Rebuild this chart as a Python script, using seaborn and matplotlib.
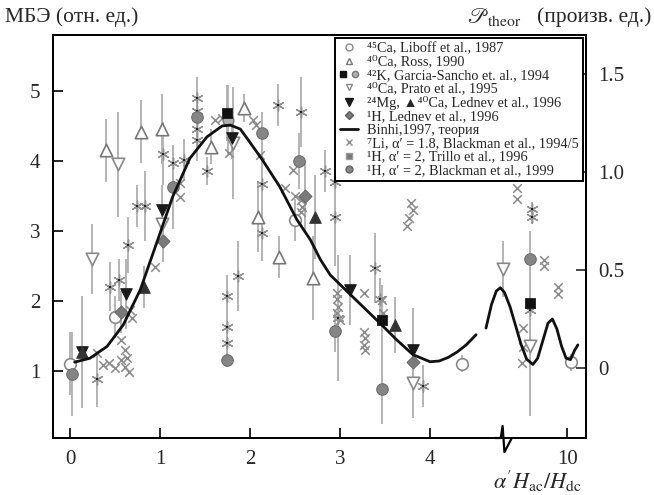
import numpy as np
import matplotlib
matplotlib.use("Agg")
import matplotlib.pyplot as plt
import seaborn as sns
from matplotlib.lines import Line2D
from matplotlib.legend_handler import HandlerTuple

# -----------------------------
# DATA (left axis units)
# -----------------------------
liboff_x = [0.0, 0.5, 2.5, 4.35, 10.1]
liboff_y = [1.1, 1.77, 3.15, 1.1, 1.12]
liboff_err = [0.45, 0.3, 0.3, 0.12, 0.12]

ross_x = [0.4, 0.79, 1.02, 1.56, 1.93, 2.09, 2.32, 2.7]
ross_y = [4.15, 4.42, 4.45, 4.2, 4.75, 3.2, 2.63, 2.33]
ross_err = [0.45, 0.45, 0.5, 0.25, 0.2, 0.5, 0.3, 0.6]

sancho_x = [1.74, 3.46, 9.0]
sancho_y = [4.68, 1.72, 1.97]
sancho_err = [0.4, 0.5, 0.3]
k42_x = [1.75]
k42_y = [4.58]
k42_err = [0.5]

prato_x = [0.24, 0.53, 1.02, 1.81, 3.81, 8.25, 9.0]
prato_y = [2.6, 3.95, 3.1, 4.25, 0.82, 2.45, 1.35]
prato_err = [0.5, 0.75, 0.3, 0.8, 0.5, 0.4, 1.0]

mg_x = [0.13, 0.62, 1.02, 1.8, 3.11, 3.81]
mg_y = [1.27, 2.1, 3.3, 4.33, 2.15, 1.3]
mg_err = [0.8, 0.5, 0.35, 0.3, 0.5, 0.6]
ca_x = [0.13, 0.82, 2.72, 3.61]
ca_y = [1.27, 2.2, 3.2, 1.65]
ca_err = [0.8, 0.3, 0.6, 0.4]

lednev_x = [0.56, 1.03, 2.61, 3.81]
lednev_y = [1.84, 2.85, 3.5, 1.12]
lednev_err = [0.3, 0.3, 0.5, 0.3]

li_x = [0.3, 0.36, 0.43, 0.5, 0.56, 0.63, 0.65, 0.61, 0.56, 0.61, 0.67, 0.69,
        0.94, 1.22, 1.22, 1.61, 1.69, 1.76, 2.03, 2.07, 2.11, 2.48, 2.39, 2.5,
        2.56, 2.58, 2.56, 2.96, 2.96, 2.98, 2.96, 3.0, 3.26, 3.26, 3.28, 3.26,
        3.28, 3.46, 3.48, 3.81, 3.77, 3.74, 3.79,
        8.65, 8.65, 8.8, 8.8, 8.77, 9.36, 9.36, 9.75, 9.75]
li_y = [1.26, 1.09, 1.11, 1.04, 1.16, 1.19, 0.99, 1.06, 1.44, 1.3, 1.87, 1.76,
        2.49, 3.69, 3.49, 4.59, 4.61, 4.11, 4.59, 4.51, 4.09, 3.87, 3.61, 3.5,
        3.44, 3.34, 3.27, 2.11, 2.03, 1.91, 1.82, 1.73, 2.11, 1.56, 1.47, 1.37,
        1.3, 2.01, 1.83, 3.3, 3.18, 3.07, 3.4,
        3.62, 3.45, 1.61, 1.34, 1.11, 2.59, 2.5, 2.2, 2.1]

trillo_x = [0.3, 0.44, 0.54, 0.64, 0.74, 0.83, 1.03, 1.14, 1.26, 1.41, 1.41,
            1.41, 1.41, 1.52, 1.74, 1.74, 1.74, 1.87, 2.13, 2.13, 2.31, 2.56,
            2.83, 2.94, 2.94, 2.98, 3.39, 3.44, 3.92, 9.0, 9.05, 9.05]
trillo_y = [0.88, 2.2, 2.3, 2.8, 3.35, 3.35, 4.1, 3.97, 4.01, 4.9, 4.72,
            4.45, 4.3, 3.85, 2.07, 1.63, 1.4, 2.35, 3.67, 2.97, 4.8, 4.7,
            3.85, 3.7, 3.2, 1.75, 2.47, 2.02, 0.78, 1.87, 3.32, 3.2]
trillo_err = [0.4, 0.35, 0.3, 0.4, 0.3, 0.5, 0.45, 0.25, 0.3, 0.3, 0.3,
              0.3, 0.3, 0.2, 0.3, 0.2, 0.2, 0.5, 0.5, 0.4, 0.3, 0.5,
              0.3, 0.5, 0.7, 0.9, 0.5, 0.3, 0.3, 0.5, 0.1, 0.1]

black99_x = [0.02, 1.14, 1.41, 1.74, 2.13, 2.54, 2.94, 3.46, 9.0]
black99_y = [0.95, 3.63, 4.63, 1.15, 4.4, 4.0, 1.57, 0.74, 2.6]
black99_err = [0.6, 0.6, 0.3, 0.1, 0.3, 0.4, 0.3, 0.5, 0.4]

# theory curve (right axis units)
theory_x = [0.05, 0.22, 0.41, 0.59, 0.78, 0.97, 1.14, 1.33, 1.52, 1.69, 1.78,
            1.89, 1.97, 2.14, 2.33, 2.52, 2.67, 2.78, 2.89, 3.08, 3.26, 3.44,
            3.63, 3.81, 4.0, 4.1, 4.2, 4.3, 4.4, 4.51]
theory_y = [0.03, 0.05, 0.11, 0.22, 0.40, 0.65, 0.875, 1.07, 1.18, 1.236, 1.24,
            1.22, 1.17, 1.06, 0.925, 0.757, 0.654, 0.554, 0.475, 0.39, 0.31, 0.23,
            0.143, 0.068, 0.032, 0.036, 0.054, 0.082, 0.118, 0.17]
theory2_x = [7.8, 7.95, 8.08, 8.19, 8.3, 8.45, 8.6, 8.75, 8.9, 9.07, 9.2, 9.35,
             9.48, 9.6, 9.72, 9.85, 9.97, 10.09, 10.2, 10.29]
theory2_y = [0.204, 0.325, 0.393, 0.41, 0.386, 0.314, 0.218, 0.121, 0.046, 0.018,
             0.05, 0.146, 0.229, 0.25, 0.2, 0.11, 0.05, 0.043, 0.09, 0.118]

x_ticks = [0, 1, 2, 3, 4, 10]
left_ticks = [1, 2, 3, 4, 5]
right_ticks = [0, 0.5, 1.0, 1.5]
right_labels = ["0", "0.5", "1.0", "1.5"]

# -----------------------------
# STYLE
# -----------------------------
sns.set_theme(style="ticks")
plt.rcParams["font.family"] = ["Liberation Serif", "DejaVu Serif"]
plt.rcParams["mathtext.fontset"] = "stix"
plt.rcParams["xtick.direction"] = "in"
plt.rcParams["ytick.direction"] = "in"

BAR = "#b4b4b4"


# broken x axis: 0..4.6 linear, 7.8.. compressed
def fwd(x):
    x = np.asarray(x, dtype=float)
    return np.where(x <= 4.6, x,
                    np.where(x < 7.8, 4.6 + (x - 4.6) * 0.00625,
                             4.62 + (x - 7.8) * 0.41))


def inv(u):
    u = np.asarray(u, dtype=float)
    return np.where(u <= 4.6, u,
                    np.where(u < 4.62, 4.6 + (u - 4.6) / 0.00625,
                             7.8 + (u - 4.62) / 0.41))


fig = plt.figure(figsize=(6.54, 4.95), dpi=100)
ax = fig.add_axes([53 / 654, 57 / 495, 533 / 654, 403 / 495])
ax.set_xscale("function", functions=(fwd, inv))

# error bars
for xs, ys, es in [(liboff_x, liboff_y, liboff_err), (ross_x, ross_y, ross_err),
                   (sancho_x, sancho_y, sancho_err), (k42_x, k42_y, k42_err),
                   (prato_x, prato_y, prato_err), (mg_x, mg_y, mg_err),
                   (ca_x, ca_y, ca_err), (lednev_x, lednev_y, lednev_err),
                   (trillo_x, trillo_y, trillo_err), (black99_x, black99_y, black99_err)]:
    ax.errorbar(xs, ys, yerr=es, fmt="none", ecolor=BAR, elinewidth=1.4, capsize=0, zorder=1)

# markers
sns.scatterplot(x=li_x, y=li_y, marker="x", s=38, color="#8a8a8a", linewidth=1.1, ax=ax, zorder=3)
sns.scatterplot(x=trillo_x, y=trillo_y, marker=(6, 2, 0), s=60, color="#909090", linewidth=1.0, ax=ax, zorder=3)
sns.scatterplot(x=trillo_x, y=trillo_y, marker="s", s=4, color="#222222", linewidth=0, ax=ax, zorder=4)
sns.scatterplot(x=liboff_x, y=liboff_y, marker="o", s=70, color="white", edgecolor="#888888", linewidth=1.2, ax=ax, zorder=4)
sns.scatterplot(x=ross_x, y=ross_y, marker="^", s=80, color="white", edgecolor="#777777", linewidth=1.2, ax=ax, zorder=4)
sns.scatterplot(x=prato_x, y=prato_y, marker="v", s=80, color="white", edgecolor="#888888", linewidth=1.2, ax=ax, zorder=4)
sns.scatterplot(x=k42_x, y=k42_y, marker="o", s=60, color="#b0b0b0", edgecolor="#777777", linewidth=1, ax=ax, zorder=4)
sns.scatterplot(x=sancho_x, y=sancho_y, marker="s", s=45, color="#111111", edgecolor="#111111", ax=ax, zorder=5)
sns.scatterplot(x=mg_x, y=mg_y, marker="v", s=70, color="#1a1a1a", edgecolor="#1a1a1a", ax=ax, zorder=5)
sns.scatterplot(x=ca_x, y=ca_y, marker="^", s=70, color="#333333", edgecolor="#333333", ax=ax, zorder=5)
sns.scatterplot(x=lednev_x, y=lednev_y, marker="D", s=45, color="#7a7a7a", edgecolor="#5a5a5a", ax=ax, zorder=5)
sns.scatterplot(x=black99_x, y=black99_y, marker="o", s=70, color="#858585", edgecolor="#666666", ax=ax, zorder=5)

ax.set_xlim(-0.19, 10.51)
ax.set_ylim(0.04, 5.8)
ax.set_xticks(x_ticks)
ax.set_xticklabels([str(t) for t in x_ticks])
ax.set_yticks(left_ticks)
ax.minorticks_off()
ax.tick_params(axis="both", length=7, width=1.2, labelsize=15, color="black")
ax.tick_params(axis="x", pad=9)
ax.tick_params(axis="y", pad=9)
for sp in ax.spines.values():
    sp.set_linewidth(1.4)
    sp.set_color("black")
ax.set_xlabel("")
ax.set_ylabel("")

# right axis + theory curve
ax2 = ax.twinx()
sns.lineplot(x=theory_x, y=theory_y, color="#111111", linewidth=2, sort=False, estimator=None, ax=ax2, zorder=6)
sns.lineplot(x=theory2_x, y=theory2_y, color="#111111", linewidth=2, sort=False, estimator=None, ax=ax2, zorder=6)
ax2.set_ylim((0.04 - 1.04) / 2.8, (5.8 - 1.04) / 2.8)
ax2.set_yticks(right_ticks)
ax2.set_yticklabels(right_labels)
ax2.minorticks_off()
ax2.tick_params(axis="y", length=7, width=1.2, labelsize=15, pad=9, direction="in")
ax2.set_ylabel("")
for sp in ax2.spines.values():
    sp.set_linewidth(1.4)
    sp.set_color("black")

# axis break zigzag on the bottom spine
tr = ax.get_xaxis_transform()
ax.plot([8.17, 8.36], [0, 0], transform=tr, color="white", linewidth=3, clip_on=False, zorder=10)
ax.plot([8.05, 8.2, 8.25, 8.3, 8.5], [0, 0, 0.03, -0.035, 0], transform=tr,
        color="black", linewidth=1.6, clip_on=False, zorder=11)

# legend
gray_o = Line2D([], [], marker="o", ls="", ms=5, mfc="white", mec="#888888")
h_ross = Line2D([], [], marker="^", ls="", ms=5, mfc="white", mec="#777777")
h_sq = Line2D([], [], marker="s", ls="", ms=4.5, mfc="#111111", mec="#111111")
h_k = Line2D([], [], marker="o", ls="", ms=4.5, mfc="#b0b0b0", mec="#777777")
h_prato = Line2D([], [], marker="v", ls="", ms=5, mfc="white", mec="#888888")
h_mg = Line2D([], [], marker="v", ls="", ms=6, mfc="#1a1a1a", mec="#1a1a1a")
h_led = Line2D([], [], marker="D", ls="", ms=4, mfc="#7a7a7a", mec="#5a5a5a")
h_line = Line2D([], [], color="#111111", lw=2)
h_li = Line2D([], [], marker="x", ls="", ms=5, mec="#8a8a8a", mew=1)
h_tr = Line2D([], [], marker="s", ls="", ms=4, mfc="#777777", mec="#999999")
h_b99 = Line2D([], [], marker="o", ls="", ms=5, mfc="#858585", mec="#666666")

handles = [gray_o, h_ross, (h_sq, h_k), h_prato, h_mg, h_led, h_line, h_li, h_tr, h_b99]
labels = ["⁴⁵Ca, Liboff et al., 1987",
          "⁴⁰Ca, Ross, 1990",
          "⁴²K, Garcia-Sancho et. al., 1994",
          "⁴⁰Ca, Prato et al., 1995",
          "²⁴Mg, ▲⁴⁰Ca, Lednev et al., 1996",
          "¹H, Lednev et al., 1996",
          "Binhi,1997, теория",
          "⁷Li, α′ = 1.8, Blackman et al., 1994/5",
          "¹H, α′ = 2, Trillo et al., 1996",
          "¹H, α′ = 2, Blackman et al., 1999"]
leg = ax2.legend(handles, labels, loc="upper right", bbox_to_anchor=(0.994, 0.993),
                 fontsize=10.3, frameon=True, fancybox=False, edgecolor="black",
                 framealpha=1, borderpad=0.3, labelspacing=0.03, handlelength=1.3,
                 handletextpad=0.6, borderaxespad=0,
                 handler_map={tuple: HandlerTuple(ndivide=None, pad=0.3)})
leg.get_frame().set_linewidth(1.4)
leg.set_zorder(20)

# axis titles
fig.text(5 / 654, 1 - 17 / 495, "МБЭ (отн. ед.)", fontsize=15.5, va="center", ha="left")
fig.text(521 / 654, 1 - 17 / 495, r"$\mathscr{P}_{\rm theor}$", fontsize=16, va="center", ha="right")
fig.text(651 / 654, 1 - 17 / 495, "(произв. ед.)", fontsize=15.5, va="center", ha="right")
fig.text(582 / 654, 1 - 481 / 495, r"$\alpha' H_{\rm ac}/H_{\rm dc}$", fontsize=16, va="center", ha="right")

fig.savefig("out.png", dpi=100)
